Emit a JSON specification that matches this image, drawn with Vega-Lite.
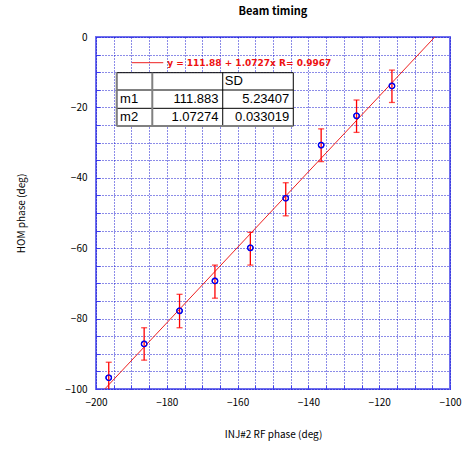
{
  "$schema": "https://vega.github.io/schema/vega-lite/v6.json",
  "width": 354,
  "height": 352,
  "autosize": {"type": "none"},
  "padding": {"left": 96, "top": 37, "right": 14, "bottom": 61},
  "background": "white",
  "title": {"text": "Beam timing", "fontSize": 11, "fontWeight": "bold", "font": "Noto Sans CJK JP", "offset": 15, "color": "#000", "anchor": "middle"},
  "config": {
    "view": {"stroke": "#6f6fee", "strokeWidth": 2},
    "axis": {
      "domain": false,
      "gridColor": "#0000cc",
      "gridDash": [1, 2],
      "gridWidth": 1,
      "gridOpacity": 0.9,
      "labelFont": "Noto Sans CJK JP",
      "labelFontSize": 10,
      "labelColor": "#000",
      "titleFont": "Noto Sans CJK JP",
      "titleFontSize": 10,
      "titleFontWeight": "normal",
      "titleColor": "#000",
      "tickColor": "#3f3fee",
      "tickSize": -4
    }
  },
  "datasets": {
    "points": [
      {"x": -196.4, "y": -96.8, "lo": -101.4, "hi": -92.4},
      {"x": -186.4, "y": -87.2, "lo": -91.8, "hi": -82.6},
      {"x": -176.4, "y": -77.8, "lo": -82.6, "hi": -73.1},
      {"x": -166.4, "y": -69.3, "lo": -74.2, "hi": -64.8},
      {"x": -156.4, "y": -59.9, "lo": -64.8, "hi": -55.5},
      {"x": -146.4, "y": -45.8, "lo": -50.8, "hi": -41.4},
      {"x": -136.4, "y": -30.7, "lo": -35.4, "hi": -26.1},
      {"x": -126.4, "y": -22.4, "lo": -27.1, "hi": -17.9},
      {"x": -116.4, "y": -13.9, "lo": -18.6, "hi": -9.4}
    ],
    "fit": [
      {"x": -200, "y": -102.66},
      {"x": -100, "y": 4.61}
    ],
    "legend": [
      {"label": "y = 111.88 + 1.0727x   R= 0.9967"}
    ],
    "table": [
      {"row": "hdr", "name": "", "m": "", "sd": "SD"},
      {"row": "m1", "name": "m1", "m": "111.883", "sd": "5.23407"},
      {"row": "m2", "name": "m2", "m": "1.07274", "sd": "0.033019"}
    ]
  },
  "layer": [
    {
      "data": {"name": "points"},
      "mark": {"type": "point", "shape": "circle", "filled": false, "color": "#0000ee", "size": 30, "strokeWidth": 1.2, "opacity": 1},
      "encoding": {
        "x": {"field": "x", "type": "quantitative", "scale": {"domain": [-200, -100], "nice": false, "zero": false},
          "axis": {"title": "INJ#2 RF phase (deg)", "tickCount": 20,
            "labelExpr": "datum.value % 20 === 0 ? datum.label : ''", "labelPadding": 12, "titlePadding": 22, "labelFlush": false, "labelOverlap": false}},
        "y": {"field": "y", "type": "quantitative", "scale": {"domain": [-100, 0], "nice": false, "zero": false},
          "axis": {"title": "HOM phase (deg)", "tickCount": 20,
            "labelExpr": "datum.value % 20 === 0 ? datum.label : ''", "labelPadding": 13, "titlePadding": 38, "labelFlush": false, "labelOverlap": false}}
      }
    },
    {
      "data": {"name": "fit"},
      "mark": {"type": "line", "color": "#ee2020", "strokeWidth": 1, "clip": true},
      "encoding": {
        "x": {"field": "x", "type": "quantitative"},
        "y": {"field": "y", "type": "quantitative"}
      }
    },
    {
      "data": {"name": "points"},
      "mark": {"type": "rule", "color": "#ff0000", "strokeWidth": 1.3, "clip": true},
      "encoding": {
        "x": {"field": "x", "type": "quantitative"},
        "y": {"field": "lo", "type": "quantitative"},
        "y2": {"field": "hi"}
      }
    },
    {
      "data": {"name": "points"},
      "mark": {"type": "tick", "orient": "horizontal", "color": "#ff0000", "size": 6, "thickness": 1.3, "clip": true},
      "encoding": {
        "x": {"field": "x", "type": "quantitative"},
        "y": {"field": "lo", "type": "quantitative"}
      }
    },
    {
      "data": {"name": "points"},
      "mark": {"type": "tick", "orient": "horizontal", "color": "#ff0000", "size": 6, "thickness": 1.3, "clip": true},
      "encoding": {
        "x": {"field": "x", "type": "quantitative"},
        "y": {"field": "hi", "type": "quantitative"}
      }
    },
    {
      "data": {"name": "points"},
      "mark": {"type": "point", "shape": "circle", "filled": false, "color": "#0000ee", "size": 30, "strokeWidth": 1.2, "opacity": 1},
      "encoding": {
        "x": {"field": "x", "type": "quantitative"},
        "y": {"field": "y", "type": "quantitative"}
      }
    },
    {
      "data": {"name": "legend"},
      "mark": {"type": "rule", "color": "#ee2020", "strokeWidth": 1},
      "encoding": {
        "x": {"datum": -189.9, "type": "quantitative"},
        "x2": {"datum": -181.0},
        "y": {"datum": -7.3, "type": "quantitative"}
      }
    },
    {
      "data": {"name": "legend"},
      "mark": {"type": "text", "align": "left", "baseline": "middle", "color": "#ee1111", "font": "DejaVu Sans", "fontSize": 9, "fontWeight": "bold"},
      "encoding": {
        "x": {"datum": -179.9, "type": "quantitative"},
        "y": {"datum": -7.3, "type": "quantitative"},
        "text": {"field": "label"}
      }
    },
    {
      "data": {"name": "legend"},
      "mark": {"type": "rect", "fill": "white", "stroke": "#000", "strokeWidth": 1},
      "encoding": {
        "x": {"datum": -194.15, "type": "quantitative"}, "x2": {"datum": -144.27},
        "y": {"datum": -10.14, "type": "quantitative"}, "y2": {"datum": -25.28}
      }
    },
    {
      "data": {"name": "legend"},
      "mark": {"type": "rule", "color": "#000", "strokeWidth": 1},
      "encoding": {
        "x": {"datum": -164.2, "type": "quantitative"},
        "y": {"datum": -10.14, "type": "quantitative"}, "y2": {"datum": -25.28}
      }
    },
    {
      "data": {"name": "legend"},
      "mark": {"type": "rule", "color": "#000", "strokeWidth": 1},
      "encoding": {
        "x": {"datum": -194.15, "type": "quantitative"}, "x2": {"datum": -144.27},
        "y": {"datum": -15.06, "type": "quantitative"}
      }
    },
    {
      "data": {"name": "legend"},
      "mark": {"type": "rule", "color": "#000", "strokeWidth": 1},
      "encoding": {
        "x": {"datum": -194.15, "type": "quantitative"}, "x2": {"datum": -144.27},
        "y": {"datum": -20.26, "type": "quantitative"}
      }
    },
    {
      "data": {"name": "legend"},
      "mark": {"type": "rule", "color": "#808080", "strokeWidth": 2},
      "encoding": {
        "x": {"datum": -184.1, "type": "quantitative"},
        "y": {"datum": -10.14, "type": "quantitative"}, "y2": {"datum": -25.28}
      }
    },
    {
      "data": {"name": "legend"},
      "mark": {"type": "rule", "color": "#808080", "strokeWidth": 2},
      "encoding": {
        "x": {"datum": -194.15, "type": "quantitative"},
        "y": {"datum": -10.14, "type": "quantitative"}, "y2": {"datum": -25.28}
      }
    },
    {
      "data": {"name": "legend"},
      "mark": {"type": "rule", "color": "#808080", "strokeWidth": 2},
      "encoding": {
        "x": {"datum": -194.15, "type": "quantitative"}, "x2": {"datum": -144.27},
        "y": {"datum": -25.28, "type": "quantitative"}
      }
    },
    {
      "data": {"name": "table"},
      "transform": [{"filter": "datum.row == 'hdr'"}],
      "mark": {"type": "text", "align": "left", "baseline": "middle", "font": "Liberation Sans", "fontSize": 13, "color": "#000"},
      "encoding": {"x": {"datum": -163.6, "type": "quantitative"}, "y": {"datum": -12.6, "type": "quantitative"}, "text": {"field": "sd"}}
    },
    {
      "data": {"name": "table"},
      "transform": [{"filter": "datum.row == 'm1'"}],
      "mark": {"type": "text", "align": "left", "baseline": "middle", "font": "Liberation Sans", "fontSize": 13, "color": "#000"},
      "encoding": {"x": {"datum": -193.2, "type": "quantitative"}, "y": {"datum": -17.66, "type": "quantitative"}, "text": {"field": "name"}}
    },
    {
      "data": {"name": "table"},
      "transform": [{"filter": "datum.row == 'm1'"}],
      "mark": {"type": "text", "align": "right", "baseline": "middle", "font": "Liberation Sans", "fontSize": 13, "color": "#000"},
      "encoding": {"x": {"datum": -165.4, "type": "quantitative"}, "y": {"datum": -17.66, "type": "quantitative"}, "text": {"field": "m"}}
    },
    {
      "data": {"name": "table"},
      "transform": [{"filter": "datum.row == 'm1'"}],
      "mark": {"type": "text", "align": "right", "baseline": "middle", "font": "Liberation Sans", "fontSize": 13, "color": "#000"},
      "encoding": {"x": {"datum": -145.4, "type": "quantitative"}, "y": {"datum": -17.66, "type": "quantitative"}, "text": {"field": "sd"}}
    },
    {
      "data": {"name": "table"},
      "transform": [{"filter": "datum.row == 'm2'"}],
      "mark": {"type": "text", "align": "left", "baseline": "middle", "font": "Liberation Sans", "fontSize": 13, "color": "#000"},
      "encoding": {"x": {"datum": -193.2, "type": "quantitative"}, "y": {"datum": -22.77, "type": "quantitative"}, "text": {"field": "name"}}
    },
    {
      "data": {"name": "table"},
      "transform": [{"filter": "datum.row == 'm2'"}],
      "mark": {"type": "text", "align": "right", "baseline": "middle", "font": "Liberation Sans", "fontSize": 13, "color": "#000"},
      "encoding": {"x": {"datum": -165.4, "type": "quantitative"}, "y": {"datum": -22.77, "type": "quantitative"}, "text": {"field": "m"}}
    },
    {
      "data": {"name": "table"},
      "transform": [{"filter": "datum.row == 'm2'"}],
      "mark": {"type": "text", "align": "right", "baseline": "middle", "font": "Liberation Sans", "fontSize": 13, "color": "#000"},
      "encoding": {"x": {"datum": -145.4, "type": "quantitative"}, "y": {"datum": -22.77, "type": "quantitative"}, "text": {"field": "sd"}}
    }
  ]
}
